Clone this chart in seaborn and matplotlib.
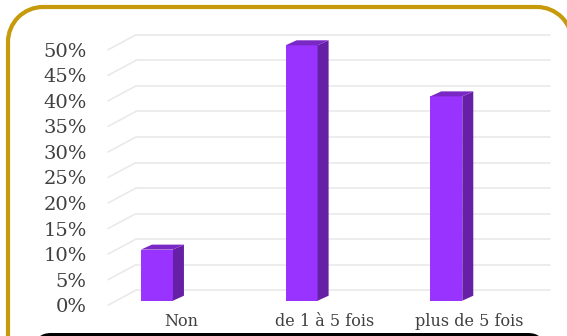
import matplotlib
matplotlib.use("Agg")
import matplotlib.pyplot as plt
import matplotlib.transforms as mt
from matplotlib.patches import FancyBboxPatch, Polygon, Arc
import seaborn as sns
import pandas as pd

categories = ["Non", "de 1 à 5 fois", "plus de 5 fois"]
values = [10, 50, 40]
ticks = [0, 5, 10, 15, 20, 25, 30, 35, 40, 45, 50]
tick_labels = [f"{t}%" for t in ticks]

W, H = 567, 336
sns.set_theme(style="white")
plt.rcParams["font.family"] = ["DejaVu Serif", "Liberation Serif"]
fig = plt.figure(figsize=(W/100, H/100), dpi=100, facecolor="white")

# frame decoration, in pixel coordinates
bg = fig.add_axes([0, 0, 1, 1], zorder=0)
bg.set_xlim(0, W); bg.set_ylim(H, 0); bg.axis("off")
bg.add_patch(FancyBboxPatch((35, 333), 509, 40, boxstyle="round,pad=0,rounding_size=16",
                            fc="black", ec="black", lw=0, zorder=3))
gold = "#C69A0B"
rad, fx0, fy0, fx1 = 35, 8, 7, 572
bg.plot([fx0, fx0], [fy0+rad, H+5], color=gold, lw=3, solid_capstyle="butt", zorder=2)
bg.plot([fx0+rad, fx1-rad], [fy0, fy0], color=gold, lw=3, solid_capstyle="butt", zorder=2)
bg.add_patch(Arc((fx0+rad, fy0+rad), 2*rad, 2*rad, theta1=180, theta2=270, color=gold, lw=3, zorder=2))
bg.add_patch(Arc((fx1-rad, fy0+rad), 2*rad, 2*rad, theta1=270, theta2=360, color=gold, lw=3, zorder=2))
bg.set_xlim(0, W); bg.set_ylim(H, 0)

# axes on the bars' front plane
L, R = 84.6, 518.6
T, B = 45.3, 300.7
ax = fig.add_axes([L/W, 1-B/H, (R-L)/W, (B-T)/H], zorder=1)
ax.patch.set_alpha(0)
df = pd.DataFrame({"cat": categories, "val": values})
sns.barplot(data=df, x="cat", y="val", color="#9933FF", saturation=1, width=0.2214,
            linewidth=0, ax=ax, zorder=5)
ax.set_xlim(-0.5, 2.5); ax.set_ylim(0, 50)
ax.set_xlabel(""); ax.set_ylabel("")
for s in ax.spines.values():
    s.set_visible(False)

ink = "#404040"
ax.set_yticks(ticks, tick_labels)
ax.set_xticks(range(len(categories)), categories)
ax.tick_params(axis="y", length=0, pad=-1.5, labelsize=14, labelcolor=ink)
ax.tick_params(axis="x", length=0, pad=9, labelsize=11.5, labelcolor=ink)
for lab in ax.get_yticklabels():
    lab.set_transform(lab.get_transform() + mt.ScaledTranslation(0, -4.5/100, fig.dpi_scale_trans))
for lab, dx in zip(ax.get_xticklabels(), [24, 23, 23]):
    lab.set_transform(lab.get_transform() + mt.ScaledTranslation(dx/100, 0, fig.dpi_scale_trans))

# perspective walls: values stay in data units, x in pixel positions
def x_of(px):
    return (px-L)/(R-L)*3-0.5
def off(dx, dy):
    return mt.offset_copy(ax.transData, fig=fig, x=dx, y=dy, units="dots")
grid_c = "#EAEAEA"
inv = ax.transData.inverted()
for v in ticks:
    ax.plot([x_of(136), x_of(550)], [v, v], transform=off(0, 10.5),
            color=grid_c, lw=1.2, clip_on=False, zorder=1)
    a = off(0, -4.5).transform((x_of(108), v))
    b = off(0, 10.5).transform((x_of(136), v))
    pa, pb = inv.transform(a), inv.transform(b)
    ax.plot([pa[0], pb[0]], [pa[1], pb[1]], color=grid_c, lw=1.2, clip_on=False, zorder=1)

# 3D faces of each bar, derived from the bars themselves
DX, DY = 11, 5
bars = [p for p in ax.patches]
for p in bars:
    x0, w, h = p.get_x(), p.get_width(), p.get_height()
    xa0, ya0 = ax.transData.transform((x0, 0))
    xa1, ya1 = ax.transData.transform((x0+w, h))
    d = lambda X, Y: inv.transform((X, Y))
    ax.add_patch(Polygon([d(xa1, ya0), d(xa1, ya1), d(xa1+DX, ya1+DY), d(xa1+DX, ya0+DY)],
                         closed=True, fc="#6620A6", ec="none", clip_on=False, zorder=6))
    ax.add_patch(Polygon([d(xa0, ya1), d(xa1, ya1), d(xa1+DX, ya1+DY), d(xa0+DX, ya1+DY)],
                         closed=True, fc="#7A28C4", ec="none", clip_on=False, zorder=6))

fig.savefig("out.png", dpi=100)
